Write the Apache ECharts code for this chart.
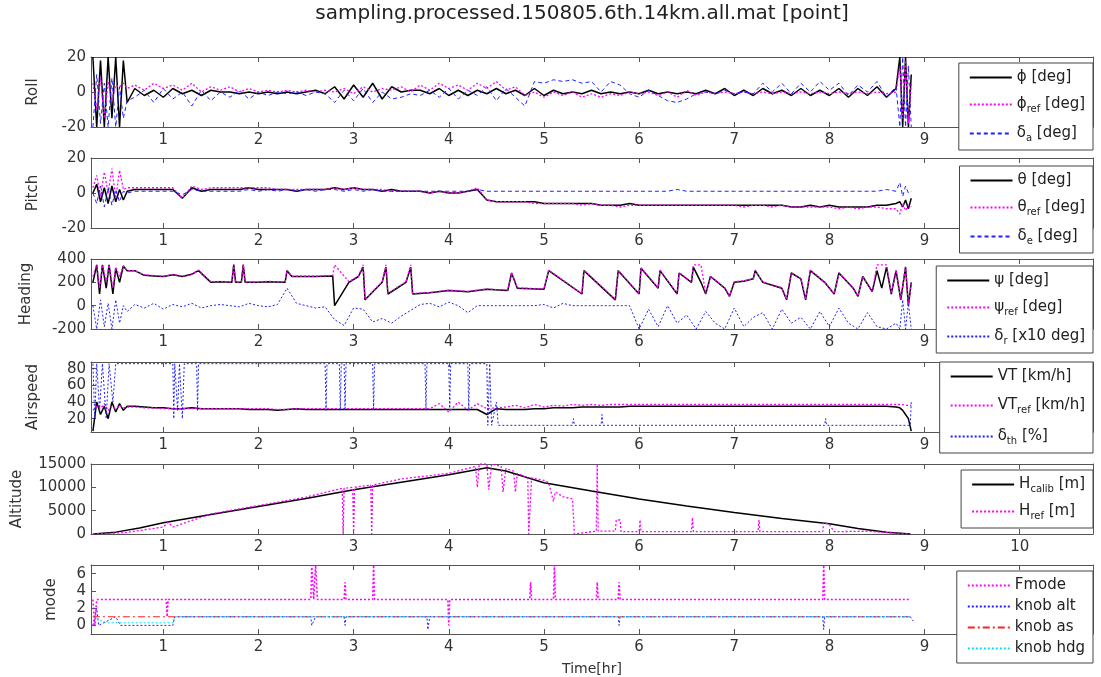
<!DOCTYPE html>
<html>
<head>
<meta charset="utf-8">
<title>sampling.processed.150805.6th.14km.all.mat</title>
<script src="https://cdn.jsdelivr.net/npm/echarts@6/dist/echarts.min.js"></script>
<style>
  html, body { margin: 0; padding: 0; background: #fff; }
  #chart { width: 1101px; height: 677px; }
</style>
</head>
<body>
<div id="chart"></div>
<script>
// time axis [hr], shared by roll / pitch / rudder / airspeed traces
var hours = [0.26,0.30,0.34,0.38,0.42,0.46,0.50,0.54,0.58,0.62,
  0.7,0.8,0.9,1.0,1.1,1.2,1.3,1.4,1.5,1.6,
  1.7,1.8,1.9,2.0,2.1,2.2,2.3,2.4,2.5,2.6,
  2.7,2.8,2.9,3.0,3.1,3.2,3.3,3.4,3.5,3.6,
  3.7,3.8,3.9,4.0,4.1,4.2,4.3,4.4,4.5,4.6,
  4.7,4.8,4.9,5.0,5.1,5.2,5.3,5.4,5.5,5.6,
  5.7,5.8,5.9,6.0,6.1,6.2,6.3,6.4,6.5,6.6,
  6.7,6.8,6.9,7.0,7.1,7.2,7.3,7.4,7.5,7.6,
  7.7,7.8,7.9,8.0,8.1,8.2,8.3,8.4,8.5,8.6,
  8.7,8.74,8.77,8.80,8.83,8.86];

// Roll
var rollPhi = [20,-20,18,-20,20,-15,20,-20,18,-6,
  2,-2,1,-3,2,-1,1,-2,1,0,
  0,-1,0,-1,0,-1,0,-1,0,1,
  -1,3,-4,4,-3,5,-4,3,0,1,
  1,-1,2,-2,1,-2,1,-1,2,-1,
  1,-2,2,-2,1,-1,0,-1,1,-1,
  0,-1,0,-1,1,-1,0,-1,0,-1,
  1,-1,2,-2,1,-2,2,-1,1,-2,
  2,-2,1,-2,2,-3,2,-2,3,-3,
  2,20,-20,20,-20,10];
var rollPhiRef = [5,-10,8,-15,6,-5,4,3,5,2,
  4,1,5,2,4,1,5,0,3,1,
  3,0,2,0,1,0,1,0,1,0,
  1,0,2,-1,3,0,2,1,3,0,
  4,1,5,2,4,1,5,2,6,1,
  3,-2,0,-3,0,-2,0,-3,-1,-3,
  -1,-2,0,-1,0,-2,0,-3,1,-2,
  0,-1,0,-1,0,-1,0,-1,0,-1,
  0,-1,0,-1,0,-1,0,-1,0,-1,
  0,15,-15,18,-18,5];
var rollDa = [-20,10,-18,5,-20,8,-20,3,-15,-5,
  -3,1,-6,2,-4,0,-8,1,-5,0,
  -3,1,-4,0,-2,0,-1,0,-2,0,
  -1,-6,1,-5,2,-6,0,-4,-3,-1,
  -2,1,-3,2,-4,1,-2,3,-5,2,
  -3,-8,6,5,7,6,7,5,6,0,
  6,4,-1,-3,1,-2,-5,-6,-4,-1,
  0,-1,1,-1,0,-1,5,0,5,-1,
  5,0,6,1,5,-2,4,0,6,-3,
  3,-20,20,-20,15,-20];

// Pitch
var pitchTheta = [0,5,-5,3,-6,4,-5,2,-4,1,
  2,2,2,2,2,-3,3,1,2,2,
  2,2,3,2,2,2,2,1,2,2,
  2,3,2,3,2,2,1,2,1,1,
  1,0,1,0,0,1,2,-4,-5,-5,
  -5,-5,-5,-6,-6,-6,-6,-6,-6,-7,
  -7,-7,-6,-7,-7,-7,-7,-7,-7,-7,
  -7,-7,-7,-7,-7,-7,-7,-7,-7,-8,
  -8,-7,-8,-7,-8,-8,-8,-8,-7,-7,
  -6,-5,-8,-4,-9,-3];
var pitchThetaRef = [3,10,-2,12,0,14,-3,13,2,3,
  3,3,3,3,3,-3,4,2,3,3,
  3,3,3,3,3,2,2,2,2,2,
  2,3,2,3,2,2,2,1,1,1,
  1,0,1,0,0,1,3,-4,-5,-5,
  -5,-5,-6,-6,-6,-6,-6,-7,-6,-7,
  -7,-8,-7,-7,-7,-7,-7,-7,-7,-7,
  -7,-7,-7,-7,-8,-7,-7,-8,-7,-8,
  -8,-8,-8,-8,-9,-8,-9,-8,-8,-9,
  -9,-12,-6,-10,-7,-8];
var pitchDe = [0,-6,4,-8,3,-7,2,-5,1,0,
  1,1,1,1,1,-1,2,1,1,1,
  1,1,2,1,2,1,2,1,2,1,
  2,2,1,2,1,2,1,1,1,1,
  1,1,1,1,1,1,2,1,1,1,
  1,1,1,1,1,1,1,1,1,1,
  1,1,1,1,1,1,1,2,1,1,
  1,1,1,1,1,1,1,1,1,1,
  1,1,1,1,1,1,1,1,1,2,
  1,6,-2,4,0,1];

// Heading (own time points, turns are near-vertical jumps)
var headT = [0.26,0.30,0.33,0.36,0.40,0.43,0.47,0.50,0.54,0.58,
  0.62,0.70,0.80,0.90,1.00,1.10,1.20,1.30,1.37,1.50,
  1.60,1.72,1.74,1.76,1.82,1.84,1.86,2.00,2.10,2.28,
  2.30,2.35,2.60,2.78,2.80,2.95,3.05,3.10,3.12,3.30,
  3.34,3.36,3.55,3.60,3.62,3.80,4.00,4.20,4.40,4.62,
  4.66,4.72,5.00,5.05,5.40,5.42,5.75,5.78,6.00,6.02,
  6.20,6.22,6.40,6.42,6.55,6.57,6.65,6.70,6.75,6.90,
  6.95,7.00,7.10,7.20,7.22,7.30,7.50,7.55,7.60,7.70,
  7.75,7.80,7.95,8.05,8.10,8.25,8.30,8.35,8.45,8.50,
  8.55,8.60,8.65,8.70,8.75,8.80,8.83,8.86];
var headPsi = [200,350,100,350,150,350,100,320,200,340,
  300,300,260,255,250,265,250,270,300,200,
  205,200,350,200,200,350,200,200,205,200,
  300,250,250,255,0,200,250,330,50,200,
  330,100,200,330,100,110,130,120,140,130,
  280,150,140,300,100,300,50,300,100,320,
  150,300,100,280,200,330,200,100,250,150,
  80,200,210,230,300,200,150,50,280,230,
  50,300,200,100,280,150,80,250,120,300,
  150,330,100,300,50,330,0,200];
var headPsiRef = [250,350,150,350,200,350,150,330,250,340,
  300,300,265,258,252,268,252,272,305,205,
  208,203,355,203,203,355,203,203,208,203,
  305,253,253,258,350,205,253,350,55,205,
  350,105,205,350,105,113,133,123,143,133,
  285,153,143,305,103,305,55,305,103,325,
  153,305,103,285,205,350,350,103,253,153,
  83,205,213,233,305,203,153,53,283,233,
  53,305,203,103,283,153,83,253,123,350,
  350,350,105,305,53,335,5,205];
var headDr = [0,-200,50,-180,20,-200,50,-150,0,-50,
  10,-20,20,-30,10,-10,20,-20,0,10,
  0,-10,20,0,-10,10,150,20,0,-20,
  -10,-120,-170,-20,-30,-140,-110,-150,-90,-40,
  10,20,-10,30,0,-60,0,0,0,0,
  0,0,0,10,-20,20,0,0,0,0,
  0,0,0,-200,-30,-180,0,-150,-80,-200,
  -50,-150,-200,-20,-180,-100,-60,-200,-30,-150,
  -100,-200,-50,-180,-20,-150,-200,-60,-180,-200,
  -150,-200,50,-200,20,-200];

// Airspeed
var asVT = [5,40,25,35,20,40,28,38,30,35,
  35,34,33,33,32,32,33,32,32,32,
  32,32,31,31,31,30,31,32,31,31,
  31,31,31,31,31,31,31,31,31,31,
  31,31,31,31,31,31,31,25,32,31,
  31,31,32,32,33,33,33,34,34,34,
  34,34,35,35,35,35,35,35,35,35,
  35,35,35,35,35,35,35,35,35,35,
  35,35,35,35,35,35,35,35,35,35,
  34,33,30,25,20,5];
var asVTRef = [30,35,32,38,30,35,32,36,33,34,
  34,33,33,32,32,32,32,32,32,32,
  32,32,32,32,32,31,31,32,32,32,
  32,32,32,32,32,32,32,32,32,32,
  32,32,38,28,40,30,38,32,33,34,
  36,33,37,34,36,35,37,36,37,36,
  37,37,37,37,37,37,37,37,37,37,
  37,37,37,37,37,37,37,37,37,37,
  37,37,37,37,37,37,37,37,37,37,
  37,37,37,36,36,36];
// throttle: own time points, drop-outs are near-vertical
var thT = [0.26,0.28,0.30,0.33,0.36,0.40,0.43,0.47,0.50,0.60,
  1.10,1.11,1.12,1.15,1.17,1.20,1.22,1.35,1.36,1.37,
  2.70,2.71,2.72,2.85,2.86,2.87,2.90,2.91,2.92,3.20,
  3.21,3.22,3.75,3.76,3.77,4.00,4.01,4.02,4.20,4.21,
  4.22,4.40,4.41,4.43,4.45,4.50,4.52,5.00,5.30,5.31,
  5.32,5.60,5.61,5.62,7.95,7.96,7.97,8.85,8.86];
var thV = [86,20,86,30,86,20,86,40,86,86,
  86,20,86,30,86,20,86,86,30,86,
  86,30,86,86,30,86,86,30,86,86,
  30,86,86,30,86,86,30,86,86,30,
  86,86,12,86,12,40,12,12,12,20,
  12,12,25,12,12,20,12,12,40];

// Altitude
var hCalibT = [0.26,0.5,0.75,1.0,1.5,2.0,2.5,3.0,3.5,4.0,4.4,4.6,5.0,5.5,6.0,6.5,7.0,7.5,8.0,8.3,8.6,8.85];
var hCalibV = [0,400,1300,2400,4200,5900,7600,9500,11100,12700,14200,13500,11000,9200,7500,6000,4600,3300,2200,1200,400,0];
var hRefT = [0.26,0.6,1.0,1.05,1.1,1.5,2.0,2.5,2.88,2.89,2.9,2.99,3.0,3.01,3.18,3.19,3.2,3.5,4.0,4.28,
  4.3,4.32,4.4,4.42,4.45,4.55,4.57,4.6,4.68,4.7,4.72,4.83,4.84,4.86,4.87,5.0,5.05,5.1,5.12,5.2,
  5.3,5.32,5.5,5.55,5.56,5.57,5.75,5.76,5.8,5.81,6.0,6.01,6.02,6.55,6.56,6.57,7.25,7.26,7.27,7.93,
  7.94,8.0,8.05,8.4,8.6,8.85];
var hRefV = [0,300,1500,2500,1500,4300,6100,7900,9800,0,9800,10000,0,10000,10500,0,10500,11800,13000,14500,
  10000,15000,15000,9500,15000,14500,9000,14000,13500,9000,13000,12000,0,0,12000,11500,11000,7000,9000,8000,
  7500,0,500,600,15000,600,600,3000,3000,500,500,3000,500,500,3500,500,500,3000,500,500,
  2500,2000,500,600,300,0];

// Mode
var fmodeT = [0.26,0.28,0.3,1.03,1.04,1.05,2.55,2.56,2.58,2.6,2.62,2.9,2.91,2.92,3.2,3.21,3.22,3.99,4.0,4.01,
  4.85,4.86,4.87,5.1,5.11,5.12,5.55,5.56,5.57,5.78,5.79,5.8,7.93,7.94,7.95,8.85];
var fmodeV = [3,0,3,3,1,3,3,7,3,7,3,3,5,3,3,7,3,3,0,3,
  3,5,3,3,7,3,3,5,3,3,5,3,3,7,3,3];
var knobAltT = [0.26,0.3,0.32,0.5,0.55,1.1,1.12,2.55,2.56,2.6,2.9,2.91,2.92,3.77,3.78,3.8,5.78,5.79,5.8,7.93,7.94,7.95,8.85,8.88];
var knobAltV = [0,2,0,1,0,0,1,1,0,1,1,0,1,1,-0.5,1,1,0,1,1,-0.5,1,1,0.5];
var knobAsT = [0.26,8.85];
var knobAsV = [1,1];
var knobHdgT = [0.26,0.4,1.1,1.12,8.85];
var knobHdgV = [1,0.3,0.3,1,1];

var xTicks = [1,2,3,4,5,6,7,8,9,10];

var chart = echarts.init(document.getElementById('chart'));

var FONT = "'DejaVu Sans', sans-serif";
var frameColor = '#555';
var gridTops = [57, 158, 259, 362, 464, 565];
var gridH = 70;

function zip(t, v) {
  return t.map(function (x, i) { return [x, v[i]]; });
}

// y axes: [name, min, max, ticks, nameGap]
var yDefs = [
  ['Roll', -20, 20, [-20, 0, 20], 50],
  ['Pitch', -20, 20, [-20, 0, 20], 50],
  ['Heading', -200, 400, [-200, 0, 200, 400], 57],
  ['Airspeed', 4, 88, [20, 40, 60, 80], 50],
  ['Altitude', 0, 15000, [0, 5000, 10000, 15000], 66],
  ['mode', -1, 7, [0, 2, 4, 6], 32]
];

var grids = [], xAxes = [], yAxes = [];
yDefs.forEach(function (d, gi) {
  grids.push({ left: 91, right: 8, top: gridTops[gi], height: gridH });
  var tick = { show: true, inside: true, length: 5, customValues: xTicks, lineStyle: { color: frameColor } };
  xAxes.push({
    gridIndex: gi, type: 'value', min: 0.24, max: 10.77, position: 'bottom',
    axisLine: { show: true, onZero: false, lineStyle: { color: frameColor } },
    axisTick: tick,
    axisLabel: { customValues: xTicks, color: '#333', fontSize: 15, margin: 6, fontFamily: FONT },
    splitLine: { show: false },
    name: gi === 5 ? 'Time[hr]' : '', nameLocation: 'middle', nameGap: 28,
    nameTextStyle: { color: '#333', fontSize: 14, fontFamily: FONT }
  });
  xAxes.push({
    gridIndex: gi, type: 'value', min: 0.24, max: 10.77, position: 'top',
    axisLine: { show: true, onZero: false, lineStyle: { color: frameColor } },
    axisTick: tick, axisLabel: { show: false }, splitLine: { show: false }
  });
  var ytick = { show: true, inside: true, length: 5, customValues: d[3], lineStyle: { color: frameColor } };
  yAxes.push({
    gridIndex: gi, type: 'value', min: d[1], max: d[2], position: 'left',
    axisLine: { show: true, onZero: false, lineStyle: { color: frameColor } },
    axisTick: ytick,
    axisLabel: {
      customValues: d[3], color: '#333', fontSize: 15, margin: 5, fontFamily: FONT,
      formatter: function (v) { return String(v); }
    },
    splitLine: { show: false },
    name: d[0], nameLocation: 'middle', nameGap: d[4], nameRotate: 90,
    nameTextStyle: { color: '#333', fontSize: 15, fontFamily: FONT }
  });
  yAxes.push({
    gridIndex: gi, type: 'value', min: d[1], max: d[2], position: 'right',
    axisLine: { show: true, onZero: false, lineStyle: { color: frameColor } },
    axisTick: ytick, axisLabel: { show: false }, splitLine: { show: false }
  });
});

function line(name, gi, t, v, color, type, width) {
  return {
    name: name, type: 'line', xAxisIndex: gi * 2, yAxisIndex: gi * 2,
    data: zip(t, v), symbol: 'none', silent: true, animation: false,
    lineStyle: { color: color, type: type, width: width },
    itemStyle: { color: color }
  };
}

var BLACK = '#000', MAG = '#ff00ff', BLUE = '#2020ff';

var series = [
  line('ϕ [deg]', 0, hours, rollPhi, BLACK, 'solid', 1.5),
  line('ϕ_ref [deg]', 0, hours, rollPhiRef, MAG, [2, 2], 1.3),
  line('δ_a [deg]', 0, hours, rollDa, BLUE, [4, 3], 1),
  line('θ [deg]', 1, hours, pitchTheta, BLACK, 'solid', 1.5),
  line('θ_ref [deg]', 1, hours, pitchThetaRef, MAG, [2, 2], 1.3),
  line('δ_e [deg]', 1, hours, pitchDe, BLUE, [4, 3], 1),
  line('ψ [deg]', 2, headT, headPsi, BLACK, 'solid', 1.5),
  line('ψ_ref [deg]', 2, headT, headPsiRef, MAG, [2, 2], 1.3),
  line('δ_r [x10 deg]', 2, hours, headDr, BLUE, [2, 2], 1),
  line('VT [km/h]', 3, hours, asVT, BLACK, 'solid', 1.5),
  line('VT_ref [km/h]', 3, hours, asVTRef, MAG, [2, 2], 1.3),
  line('δ_th [%]', 3, thT, thV, BLUE, [2, 2], 1),
  line('H_calib [m]', 4, hCalibT, hCalibV, BLACK, 'solid', 1.5),
  line('H_ref [m]', 4, hRefT, hRefV, MAG, [2, 2], 1.3),
  line('Fmode', 5, fmodeT, fmodeV, MAG, [2, 2], 1.6),
  line('knob alt', 5, knobAltT, knobAltV, BLUE, [2, 2], 1),
  line('knob as', 5, knobAsT, knobAsV, '#ff2020', [7, 3, 2, 3], 1),
  line('knob hdg', 5, knobHdgT, knobHdgV, '#00e0ff', [2, 2], 1)
];

function fmt(name) {
  var m = name.match(/^([^_]*)_(\S+)(.*)$/);
  return m ? m[1] + '{sub|' + m[2] + '}' + m[3] : name;
}

function legendFor(names, top, gap) {
  return {
    orient: 'vertical', right: 8, top: top, data: names, itemGap: gap,
    itemWidth: 42, itemHeight: 12, padding: [7, 8, 7, 10],
    backgroundColor: '#fff', borderColor: '#444', borderWidth: 1, borderRadius: 0,
    selectedMode: false, formatter: fmt,
    itemStyle: { opacity: 0 },
    textStyle: {
      color: '#222', fontSize: 15, fontFamily: FONT,
      rich: { sub: { fontSize: 10, fontFamily: FONT, color: '#222', padding: [9, 0, 0, 0] } }
    }
  };
}

var option = {
  backgroundColor: '#fff',
  animation: false,
  textStyle: { fontFamily: FONT },
  graphic: [{
    type: 'text', x: 582, y: 14,
    style: {
      text: 'sampling.processed.150805.6th.14km.all.mat [point]',
      fontSize: 20, fontFamily: FONT, fill: '#222',
      align: 'center', verticalAlign: 'middle'
    }
  }],
  legend: [
    legendFor(['ϕ [deg]', 'ϕ_ref [deg]', 'δ_a [deg]'], 63, 12),
    legendFor(['θ [deg]', 'θ_ref [deg]', 'δ_e [deg]'], 166, 12),
    legendFor(['ψ [deg]', 'ψ_ref [deg]', 'δ_r [x10 deg]'], 266, 12),
    legendFor(['VT [km/h]', 'VT_ref [km/h]', 'δ_th [%]'], 362, 14),
    legendFor(['H_calib [m]', 'H_ref [m]'], 470, 10),
    legendFor(['Fmode', 'knob alt', 'knob as', 'knob hdg'], 571, 6)
  ],
  grid: grids,
  xAxis: xAxes,
  yAxis: yAxes,
  series: series
};

chart.setOption(option);
</script>
</body>
</html>
